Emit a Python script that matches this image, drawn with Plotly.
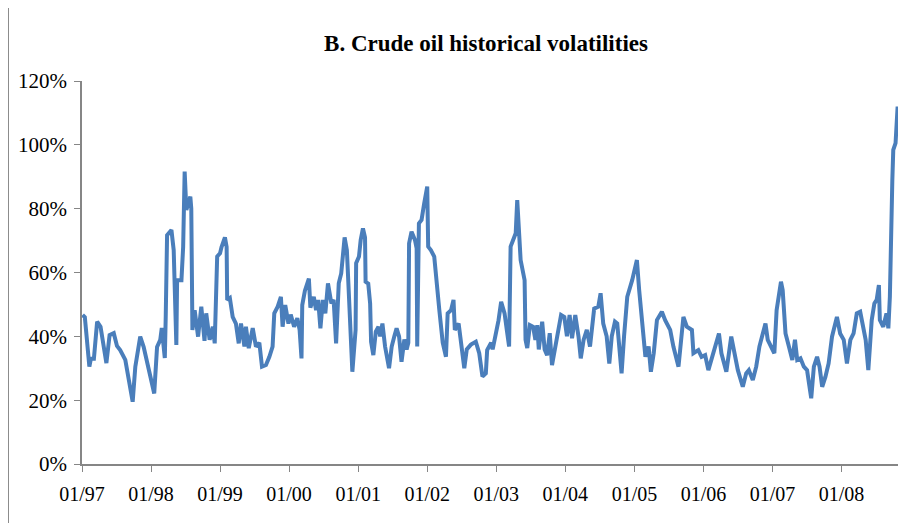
import plotly.graph_objects as go

# approx. readings of the volatility series (in %)
obs_dates = [
    '1997-01-04', '1997-01-16', '1997-02-09', '1997-02-17', '1997-03-05', '1997-03-22', '1997-04-09', '1997-04-26',
    '1997-05-10', '1997-05-27', '1997-06-18', '1997-07-05', '1997-07-22', '1997-08-18', '1997-09-06', '1997-09-26',
    '1997-10-10', '1997-11-05', '1997-11-23', '1997-12-19', '1998-01-18', '1998-02-02', '1998-02-19', '1998-02-27',
    '1998-03-15', '1998-03-20', '1998-03-27', '1998-04-19', '1998-05-01', '1998-05-15', '1998-05-19', '1998-06-11',
    '1998-06-20', '1998-06-28', '1998-07-07', '1998-07-28', '1998-08-02', '1998-08-08', '1998-08-20', '1998-09-07',
    '1998-09-24', '1998-10-11', '1998-10-20', '1998-11-07', '1998-11-24', '1998-12-04', '1998-12-17', '1999-01-01',
    '1999-01-09', '1999-01-27', '1999-02-05', '1999-02-08', '1999-02-22', '1999-03-09', '1999-03-26', '1999-04-10',
    '1999-04-22', '1999-05-10', '1999-05-18', '1999-06-02', '1999-06-23', '1999-07-10', '1999-07-28', '1999-08-11',
    '1999-09-01', '1999-09-19', '1999-10-06', '1999-10-15', '1999-11-02', '1999-11-19', '1999-11-28', '1999-12-12',
    '1999-12-29', '2000-01-10', '2000-01-28', '2000-02-14', '2000-02-26', '2000-03-07', '2000-03-11', '2000-03-25',
    '2000-04-15', '2000-04-23', '2000-05-11', '2000-05-23', '2000-06-03', '2000-06-15', '2000-06-28', '2000-07-11',
    '2000-07-25', '2000-08-12', '2000-08-24', '2000-09-06', '2000-09-20', '2000-10-03', '2000-10-21', '2000-11-02',
    '2000-11-11', '2000-12-01', '2000-12-18', '2000-12-21', '2001-01-05', '2001-01-14', '2001-01-26', '2001-02-06',
    '2001-02-09', '2001-02-23', '2001-03-05', '2001-03-10', '2001-03-22', '2001-04-04', '2001-04-18', '2001-04-27',
    '2001-05-09', '2001-05-23', '2001-06-13', '2001-06-27', '2001-07-11', '2001-07-23', '2001-08-05', '2001-08-18',
    '2001-09-02', '2001-09-14', '2001-09-23', '2001-09-27', '2001-10-10', '2001-10-28', '2001-11-06', '2001-11-09',
    '2001-11-18', '2001-12-02', '2001-12-16', '2002-01-01', '2002-01-06', '2002-01-20', '2002-02-07', '2002-02-19',
    '2002-03-06', '2002-03-24', '2002-04-10', '2002-04-19', '2002-05-07', '2002-05-20', '2002-05-27', '2002-06-16',
    '2002-06-28', '2002-07-16', '2002-07-29', '2002-08-20', '2002-09-15', '2002-10-03', '2002-10-20', '2002-11-07',
    '2002-11-14', '2002-12-05', '2002-12-13', '2003-01-01', '2003-01-13', '2003-01-27', '2003-02-14', '2003-02-27',
    '2003-03-10', '2003-03-18', '2003-04-01', '2003-04-14', '2003-04-22', '2003-05-01', '2003-05-10', '2003-05-31',
    '2003-06-05', '2003-06-14', '2003-06-28', '2003-07-15', '2003-07-27', '2003-08-06', '2003-08-14', '2003-09-01',
    '2003-09-14', '2003-09-27', '2003-10-11', '2003-10-23', '2003-11-19', '2003-12-10', '2003-12-27', '2004-01-10',
    '2004-01-24', '2004-02-06', '2004-02-23', '2004-03-11', '2004-03-23', '2004-04-07', '2004-04-24', '2004-05-11',
    '2004-06-02', '2004-06-24', '2004-07-06', '2004-07-20', '2004-08-07', '2004-08-21', '2004-09-03', '2004-09-20',
    '2004-10-02', '2004-10-16', '2004-10-25', '2004-11-07', '2004-11-24', '2004-12-20', '2005-01-14', '2005-01-26',
    '2005-02-12', '2005-02-28', '2005-03-17', '2005-03-29', '2005-04-13', '2005-04-30', '2005-05-26', '2005-06-13',
    '2005-07-09', '2005-07-26', '2005-08-22', '2005-09-17', '2005-10-05', '2005-11-01', '2005-11-09', '2005-12-05',
    '2005-12-22', '2006-01-10', '2006-01-27', '2006-02-22', '2006-03-24', '2006-04-06', '2006-05-02', '2006-05-28',
    '2006-06-15', '2006-07-02', '2006-07-28', '2006-08-15', '2006-08-29', '2006-09-19', '2006-10-07', '2006-10-24',
    '2006-11-11', '2006-11-25', '2006-12-07', '2006-12-24', '2007-01-11', '2007-01-23', '2007-02-15', '2007-02-24',
    '2007-03-11', '2007-03-29', '2007-04-16', '2007-04-30', '2007-05-12', '2007-05-29', '2007-06-16', '2007-07-03',
    '2007-07-15', '2007-07-25', '2007-08-08', '2007-08-25', '2007-09-07', '2007-09-21', '2007-10-08', '2007-10-25',
    '2007-11-12', '2007-11-29', '2007-12-08', '2007-12-25', '2008-01-13', '2008-01-30', '2008-02-17', '2008-03-05',
    '2008-03-22', '2008-04-09', '2008-04-26', '2008-05-08', '2008-05-22', '2008-06-09', '2008-06-23', '2008-07-05',
    '2008-07-17', '2008-07-22', '2008-08-09', '2008-08-26', '2008-09-05', '2008-09-13', '2008-09-26', '2008-10-01',
    '2008-10-13', '2008-10-24',
]

hist_vol = [
    46.7, 46.0, 30.5, 33.0, 33.0, 44.6, 43.0, 36.7,
    31.6, 40.4, 41.0, 37.0, 35.7, 32.6, 26.3, 19.5,
    30.5, 39.9, 36.7, 30.5, 22.1, 36.7, 38.9, 42.6,
    33.2, 46.7, 71.7, 73.3, 67.0, 37.3, 57.6, 57.6,
    68.0, 91.6, 79.6, 83.8, 80.0, 42.0, 48.2, 39.9,
    49.3, 38.6, 47.2, 38.9, 43.0, 37.8, 65.0, 66.0,
    68.0, 71.0, 68.0, 51.4, 52.0, 46.1, 44.0, 37.8,
    44.0, 36.8, 43.0, 36.3, 42.6, 36.8, 38.0, 30.5,
    31.0, 33.6, 36.8, 47.2, 49.3, 52.4, 43.0, 49.8,
    44.0, 46.8, 43.0, 45.7, 42.0, 33.1, 49.8, 54.3,
    58.1, 49.0, 52.4, 48.2, 51.4, 42.5, 51.4, 47.2,
    56.6, 50.3, 51.4, 37.8, 56.6, 59.7, 71.0, 67.0,
    55.5, 28.9, 42.0, 62.9, 65.0, 70.2, 73.8, 71.0,
    57.1, 56.5, 50.3, 38.3, 34.1, 41.5, 43.0, 40.0,
    44.0, 36.8, 30.0, 36.8, 40.0, 42.5, 40.0, 32.0,
    39.0, 35.9, 38.0, 69.1, 72.8, 70.2, 67.6, 36.8,
    75.4, 76.5, 81.7, 86.9, 68.1, 67.0, 65.0, 56.5,
    48.2, 38.0, 33.6, 47.2, 48.2, 51.4, 42.0, 44.0,
    38.0, 30.0, 35.9, 37.4, 38.3, 34.7, 27.4, 28.4,
    35.7, 38.0, 35.9, 41.5, 45.0, 50.8, 47.2, 41.5,
    36.8, 68.1, 70.2, 72.3, 82.7, 73.3, 63.9, 57.6,
    38.9, 36.3, 43.5, 43.0, 38.9, 43.5, 35.9, 44.6,
    35.9, 34.1, 41.0, 31.0, 40.0, 46.7, 46.1, 40.0,
    46.7, 39.4, 46.7, 40.0, 33.1, 38.9, 42.0, 36.8,
    48.7, 49.3, 53.5, 44.0, 40.0, 31.5, 40.0, 44.6,
    44.0, 35.9, 28.4, 40.0, 52.4, 57.6, 63.9, 54.5,
    42.0, 33.6, 36.8, 28.9, 34.7, 45.1, 47.7, 45.0,
    42.0, 36.8, 30.5, 46.1, 43.0, 42.0, 34.7, 35.7,
    33.6, 34.1, 29.4, 34.7, 40.9, 34.7, 28.9, 39.9,
    34.7, 29.4, 24.2, 28.4, 29.4, 26.3, 30.5, 36.8,
    40.9, 44.0, 38.9, 36.8, 34.7, 48.2, 57.1, 54.5,
    40.9, 36.8, 32.6, 38.9, 32.6, 33.1, 30.5, 29.4,
    24.2, 20.6, 30.5, 33.6, 30.5, 24.2, 27.3, 31.5,
    39.9, 44.0, 46.1, 40.9, 38.9, 31.5, 38.9, 40.9,
    47.2, 47.7, 42.0, 38.9, 29.4, 45.1, 50.3, 51.4,
    56.1, 45.1, 43.0, 47.2, 42.5, 52.4, 89.0, 98.4,
    100.5, 112.0,
]

year_ticks = ['1997-01-01', '1998-01-01', '1999-01-01', '2000-01-01', '2001-01-01', '2002-01-01',
              '2003-01-01', '2004-01-01', '2005-01-01', '2006-01-01', '2007-01-01', '2008-01-01']
year_labels = ['01/97', '01/98', '01/99', '01/00', '01/01', '01/02',
               '01/03', '01/04', '01/05', '01/06', '01/07', '01/08']
pct_ticks = [0, 20, 40, 60, 80, 100, 120]
pct_labels = ['0%', '20%', '40%', '60%', '80%', '100%', '120%']

AXIS_GREY = '#868686'
LINE_BLUE = '#4A7EBB'
SERIF = 'Liberation Serif, Times New Roman, serif'

fig = go.Figure(go.Scatter(
    x=obs_dates, y=hist_vol,
    mode='lines',
    line=dict(color=LINE_BLUE, width=4),
    hoverinfo='x+y',
    showlegend=False,
))

# the page insets the figure by 8px on each side, so it is sized to fit
# the space that is actually visible
fig.update_layout(
    width=890, height=515,
    paper_bgcolor='white',
    plot_bgcolor='white',
    font=dict(family=SERIF, color='#000000', size=21),
    margin=dict(l=74, r=0, t=73, b=59),
    title=dict(
        text='<b>B. Crude oil historical volatilities</b>',
        font=dict(family=SERIF, size=23, color='#000000'),
        x=478 / 890, xanchor='center', xref='container',
        y=1 - 35 / 515, yanchor='middle', yref='container',
    ),
    xaxis=dict(
        type='date',
        range=['1997-01-01', '2008-10-26'],
        tickvals=year_ticks, ticktext=year_labels,
        showgrid=False, zeroline=False,
        showline=True, linecolor=AXIS_GREY, linewidth=1.5,
        ticks='outside', ticklen=6, tickcolor=AXIS_GREY, tickwidth=1,
        ticklabelstandoff=5,
        tickfont=dict(size=20),
    ),
    yaxis=dict(
        range=[0, 120],
        tickvals=pct_ticks, ticktext=pct_labels,
        showgrid=False, zeroline=False,
        showline=True, linecolor=AXIS_GREY, linewidth=1.5,
        ticks='outside', ticklen=6, tickcolor=AXIS_GREY, tickwidth=1,
        ticklabelstandoff=3,
        tickfont=dict(size=21),
    ),
)

# outer chart frame (only top and left edges are visible in the crop)
fig.add_shape(
    type='rect', xref='paper', yref='paper',
    x0=-74 / 816, x1=1.2, y0=-0.3, y1=1.2063,
    line=dict(color='#8C8C8C', width=2),
    fillcolor='rgba(0,0,0,0)', layer='below',
)

fig.write_html('out.html')
